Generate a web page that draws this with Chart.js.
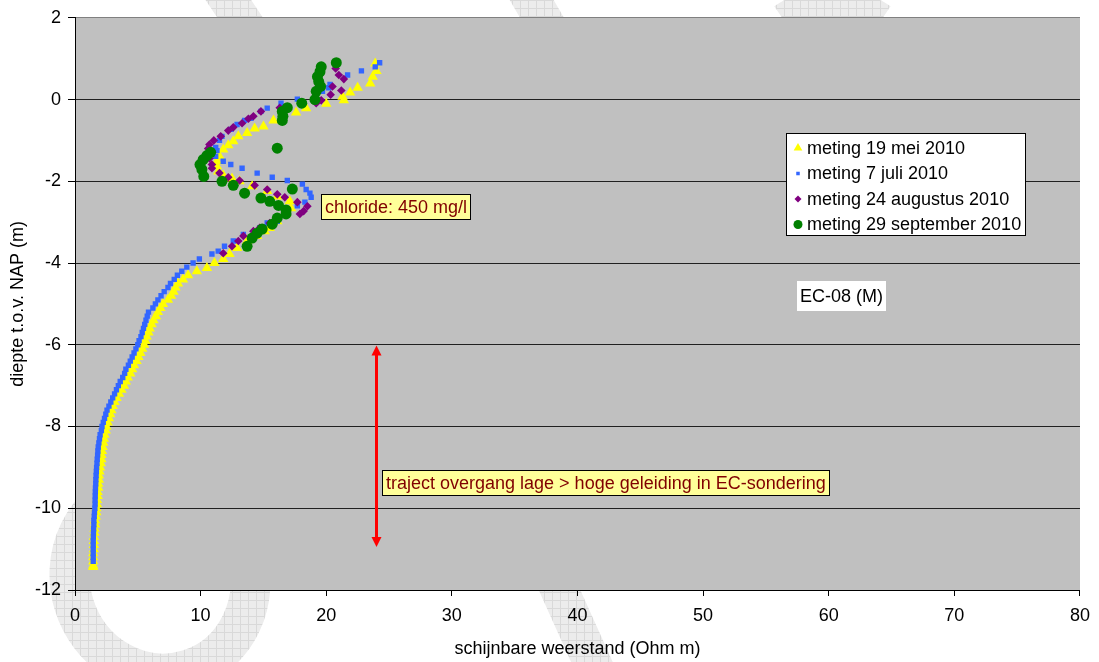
<!DOCTYPE html>
<html>
<head>
<meta charset="utf-8">
<script src="https://cdn.jsdelivr.net/npm/chart.js@4/dist/chart.umd.min.js"></script>
<style>
  html, body { margin: 0; padding: 0; background: #fff; }
  #wrap { width: 1099px; height: 662px; }
</style>
</head>
<body>
<div id="wrap"><canvas id="chart" width="1099" height="662"></canvas></div>
<script>
// Meetreeksen: schijnbare weerstand (Ohm m) tegen diepte t.o.v. NAP (m)
const meiWeerstand = [23.9, 24.0, 23.7, 23.5, 22.5, 21.9, 21.3, 21.4, 20.0, 18.4, 17.6, 15.8, 15.0, 14.3, 13.7, 13.0, 12.6, 12.2, 11.8, 11.5,
  11.3, 11.3, 11.4, 11.8, 12.5, 13.1, 14.1, 15.3, 16.1, 17.1, 17.2, 16.8, 16.1, 15.5, 15.1, 14.5, 13.7, 12.9, 12.3, 11.8,
  11.1, 10.5, 9.7, 9.0, 8.6, 8.2, 8.0, 7.85, 7.65, 7.4, 7.0, 6.8, 6.6, 6.45, 6.25, 6.1, 5.95, 5.85, 5.7, 5.6,
  5.5, 5.35, 5.2, 5.05, 4.9, 4.7, 4.55, 4.4, 4.2, 4.05, 3.9, 3.7, 3.5, 3.3, 3.15, 3.0, 2.9, 2.8, 2.7, 2.6,
  2.5, 2.45, 2.35, 2.3, 2.25, 2.2, 2.15, 2.1, 2.1, 2.05, 2.0, 1.95, 1.9, 1.9, 1.85, 1.85, 1.8, 1.8, 1.75, 1.75,
  1.7, 1.7, 1.65, 1.6, 1.6, 1.55, 1.55, 1.5, 1.5, 1.5, 1.5, 1.45, 1.45, 1.45, 1.45, 1.45];
const meiDiepte = [0.88, 0.7, 0.56, 0.39, 0.29, 0.17, 0.07, -0.02, -0.1, -0.21, -0.32, -0.51, -0.66, -0.71, -0.82, -0.9, -1.02, -1.12, -1.22, -1.39,
  -1.51, -1.63, -1.76, -1.85, -1.93, -2.0, -2.12, -2.24, -2.37, -2.49, -2.66, -2.8, -2.98, -3.14, -3.22, -3.34, -3.46, -3.63, -3.78, -3.9,
  -4.0, -4.12, -4.2, -4.3, -4.4, -4.5, -4.6, -4.7, -4.8, -4.9, -5.0, -5.1, -5.2, -5.3, -5.4, -5.5, -5.6, -5.7, -5.8, -5.9,
  -6.0, -6.1, -6.2, -6.3, -6.4, -6.5, -6.6, -6.7, -6.8, -6.9, -7.0, -7.1, -7.2, -7.3, -7.4, -7.5, -7.6, -7.7, -7.8, -7.9,
  -8.0, -8.1, -8.2, -8.3, -8.4, -8.5, -8.6, -8.7, -8.8, -8.9, -9.0, -9.1, -9.2, -9.3, -9.4, -9.5, -9.6, -9.7, -9.8, -9.9,
  -10.0, -10.1, -10.2, -10.3, -10.4, -10.5, -10.6, -10.7, -10.8, -10.9, -11.0, -11.1, -11.2, -11.3, -11.4, -11.44];

const juliWeerstand = [24.25, 23.9, 22.8, 21.7, 20.3, 20.2, 19.7, 17.7, 16.4, 15.3, 14.8, 14.0, 13.5, 12.9, 12.4, 11.7, 11.5, 11.2, 11.3, 11.2,
  11.8, 12.4, 13.3, 14.5, 15.7, 16.9, 18.1, 18.4, 18.7, 18.8, 18.3, 17.7, 16.8, 16.1, 15.3, 14.7, 13.4, 12.6, 11.9, 11.4,
  10.9, 9.9, 9.4, 8.9, 8.5, 8.15, 7.9, 7.6, 7.4, 7.1, 6.85, 6.6, 6.4, 6.2, 5.85, 5.75, 5.65, 5.55, 5.45, 5.35,
  5.25, 5.1, 5.0, 4.85, 4.7, 4.55, 4.4, 4.25, 4.05, 3.95, 3.8, 3.6, 3.45, 3.3, 3.15, 3.0, 2.85, 2.7, 2.55, 2.45,
  2.35, 2.25, 2.15, 2.1, 2.0, 1.95, 1.9, 1.85, 1.82, 1.8, 1.77, 1.75, 1.72, 1.7, 1.68, 1.66, 1.65, 1.63, 1.62, 1.61,
  1.6, 1.6, 1.58, 1.55, 1.53, 1.5, 1.5, 1.48, 1.47, 1.46, 1.45, 1.45, 1.45, 1.45, 1.45, 1.45];
const juliDiepte = [0.9, 0.8, 0.7, 0.6, 0.37, 0.29, 0.2, 0.01, -0.09, -0.21, -0.29, -0.46, -0.51, -0.61, -0.73, -0.9, -1.0, -1.17, -1.25, -1.39,
  -1.51, -1.59, -1.68, -1.8, -1.9, -1.98, -2.07, -2.2, -2.29, -2.39, -2.51, -2.6, -2.8, -2.98, -3.02, -3.14, -3.3, -3.46, -3.59, -3.71,
  -3.78, -3.9, -4.0, -4.1, -4.2, -4.3, -4.4, -4.5, -4.6, -4.7, -4.8, -4.9, -5.0, -5.1, -5.2, -5.3, -5.4, -5.5, -5.6, -5.7,
  -5.8, -5.9, -6.0, -6.1, -6.2, -6.3, -6.4, -6.5, -6.6, -6.7, -6.8, -6.9, -7.0, -7.1, -7.2, -7.3, -7.4, -7.5, -7.6, -7.7,
  -7.8, -7.9, -8.0, -8.1, -8.2, -8.3, -8.4, -8.5, -8.6, -8.7, -8.8, -8.9, -9.0, -9.1, -9.2, -9.3, -9.4, -9.5, -9.6, -9.7,
  -9.8, -9.9, -10.0, -10.1, -10.2, -10.3, -10.4, -10.5, -10.6, -10.7, -10.8, -10.9, -11.0, -11.1, -11.2, -11.3];

const augWeerstand = [20.75, 21.0, 21.4, 20.5, 21.2, 20.35, 19.6, 19.2, 16.3, 14.8, 14.2, 13.8, 13.3, 12.6, 12.2, 11.6, 11.05, 10.7, 10.6, 10.7,
  10.9, 10.9, 11.5, 12.2, 13.1, 14.3, 15.3, 16.1, 16.7, 17.7, 18.5, 18.2, 17.9, 16.1, 15.5, 14.7, 14.2, 13.4, 13.0, 12.5, 11.8];
const augDiepte = [0.76, 0.6, 0.5, 0.32, 0.22, 0.12, -0.02, -0.09, -0.2, -0.29, -0.41, -0.47, -0.58, -0.68, -0.76, -0.9, -1.0, -1.1, -1.2, -1.44,
  -1.59, -1.68, -1.8, -1.9, -1.98, -2.1, -2.2, -2.32, -2.39, -2.51, -2.61, -2.73, -2.8, -2.93, -3.02, -3.14, -3.22, -3.34, -3.46, -3.59, -3.76];

const sepWeerstand = [20.8, 19.6, 19.5, 19.3, 19.4, 19.55, 19.2, 19.1, 18.05, 16.9, 16.5, 16.55, 16.5, 16.1, 10.8, 10.5, 10.2, 9.95, 10.1, 10.25,
  11.7, 12.6, 13.5, 14.8, 15.5, 16.2, 17.3, 16.8, 16.8, 16.1, 15.7, 14.9, 14.5, 14.1, 13.7];
const sepDiepte = [0.9, 0.8, 0.68, 0.56, 0.44, 0.32, 0.2, 0.0, -0.09, -0.2, -0.29, -0.41, -0.51, -1.19, -1.29, -1.37, -1.47, -1.59, -1.71, -1.88,
  -2.0, -2.1, -2.29, -2.41, -2.49, -2.59, -2.19, -2.7, -2.8, -2.9, -3.05, -3.17, -3.27, -3.39, -3.59];

const reeksNamen = ['meting 19 mei 2010', 'meting 7 juli 2010', 'meting 24 augustus 2010', 'meting 29 september 2010'];

// Annotaties (in data-eenheden)
const chlorideTekst = 'chloride: 450 mg/l';
const chlorideX = 19.56, chlorideY = -2.63;
const putTekst = 'EC-08 (M)';
const putX = 57.5, putY = -4.8;
const trajectTekst = 'traject overgang lage > hoge geleiding in EC-sondering';
const trajectX = 24.4, trajectY = -9.39;
const pijlX = 24.0, pijlBoven = -6.02, pijlOnder = -10.95;

const FONT = '"Liberation Sans", Arial, sans-serif';
const FS = 18;

function punten(xs, ys) {
  return xs.map((x, i) => ({ x: x, y: ys[i] }));
}

function makePattern(ctx) {
  const p = document.createElement('canvas');
  p.width = 8; p.height = 8;
  const c = p.getContext('2d');
  c.fillStyle = '#ececec'; c.fillRect(0, 0, 8, 8);
  c.fillStyle = '#d9d9d9'; c.fillRect(0, 0, 8, 1); c.fillRect(0, 0, 1, 8);
  return ctx.createPattern(p, 'repeat');
}

// watermerk + grijze plotachtergrond
const achtergrond = {
  id: 'achtergrond',
  beforeDraw(chart) {
    const { ctx, chartArea: a } = chart;
    ctx.save();
    ctx.strokeStyle = makePattern(ctx);
    ctx.lineCap = 'butt';
    ctx.lineWidth = 40;
    ctx.beginPath();
    ctx.ellipse(160, 578, 90, 96, -0.3, 0, Math.PI * 2);
    ctx.stroke();
    ctx.lineWidth = 38;
    ctx.beginPath(); ctx.moveTo(215, -20); ctx.lineTo(255, 40); ctx.stroke();
    ctx.beginPath(); ctx.moveTo(520, -20); ctx.lineTo(555, 40); ctx.stroke();
    ctx.beginPath(); ctx.moveTo(785, 22); ctx.quadraticCurveTo(832, -10, 880, 22); ctx.stroke();
    ctx.beginPath(); ctx.moveTo(555, 580); ctx.lineTo(600, 680); ctx.stroke();
    ctx.fillStyle = '#c0c0c0';
    ctx.fillRect(a.left, a.top, a.right - a.left, a.bottom - a.top);
    ctx.restore();
  }
};

function labelBox(ctx, x, yMid, tekst, bg, kleur, rand, pad, h) {
  ctx.font = FS + 'px ' + FONT;
  const w = Math.round(ctx.measureText(tekst).width + pad * 2);
  const left = Math.round(x);
  const top = Math.round(yMid - h / 2);
  ctx.fillStyle = bg;
  ctx.fillRect(left, top, w, h);
  if (rand) {
    ctx.strokeStyle = '#000';
    ctx.lineWidth = 1;
    ctx.strokeRect(left + 0.5, top + 0.5, w - 1, h - 1);
  }
  ctx.fillStyle = kleur;
  ctx.textBaseline = 'middle';
  ctx.textAlign = 'left';
  ctx.fillText(tekst, left + pad, top + h / 2 + 1);
}

const annotaties = {
  id: 'annotaties',
  afterDatasetsDraw(chart) {
    const { ctx, scales: { x: xs, y: ys } } = chart;
    ctx.save();
    // rode dubbele pijl
    const px = Math.round(xs.getPixelForValue(pijlX)) + 0.5;
    const y1 = ys.getPixelForValue(pijlBoven), y2 = ys.getPixelForValue(pijlOnder);
    ctx.strokeStyle = '#ff0000';
    ctx.fillStyle = '#ff0000';
    ctx.lineWidth = 3;
    ctx.beginPath(); ctx.moveTo(px, y1 + 8); ctx.lineTo(px, y2 - 8); ctx.stroke();
    ctx.beginPath(); ctx.moveTo(px, y1); ctx.lineTo(px - 5, y1 + 10); ctx.lineTo(px + 5, y1 + 10); ctx.closePath(); ctx.fill();
    ctx.beginPath(); ctx.moveTo(px, y2); ctx.lineTo(px - 5, y2 - 10); ctx.lineTo(px + 5, y2 - 10); ctx.closePath(); ctx.fill();

    labelBox(ctx, xs.getPixelForValue(chlorideX), ys.getPixelForValue(chlorideY), chlorideTekst, '#ffff99', '#800000', true, 4, 26);
    labelBox(ctx, xs.getPixelForValue(trajectX), ys.getPixelForValue(trajectY), trajectTekst, '#ffff99', '#800000', true, 4, 26);
    labelBox(ctx, xs.getPixelForValue(putX), ys.getPixelForValue(putY), putTekst, '#ffffff', '#000000', false, 3, 30);
    ctx.restore();
  }
};

// legenda in een wit kader rechtsboven in het plotvlak
const legenda = {
  id: 'legenda',
  afterDraw(chart) {
    const ctx = chart.ctx;
    const left = 786, top = 133, w = 240, h = 103, rij = 25.5;
    ctx.save();
    ctx.fillStyle = '#ffffff';
    ctx.fillRect(left, top, w, h);
    ctx.strokeStyle = '#000';
    ctx.lineWidth = 1;
    ctx.strokeRect(left + 0.5, top + 0.5, w - 1, h - 1);
    const radii = [5, 2.5, 3.5, 4.5];
    chart.data.datasets.forEach((ds, i) => {
      const y = top + 15 + i * rij;
      ctx.fillStyle = ds.backgroundColor;
      ctx.strokeStyle = ds.backgroundColor;
      Chart.helpers.drawPoint(ctx, { pointStyle: ds.pointStyle, radius: radii[i], rotation: 0, borderWidth: 0 }, left + 12, y);
      ctx.fillStyle = '#000';
      ctx.font = FS + 'px ' + FONT;
      ctx.textBaseline = 'middle';
      ctx.fillText(ds.label, left + 21, y + 1);
    });
    ctx.restore();
  }
};

const ctx = document.getElementById('chart').getContext('2d');
new Chart(ctx, {
  type: 'scatter',
  data: {
    datasets: [
      { label: reeksNamen[0], data: punten(meiWeerstand, meiDiepte), pointStyle: 'triangle', pointRadius: 6,
        backgroundColor: '#ffff00', borderColor: '#ffff00', borderWidth: 0, order: 4 },
      { label: reeksNamen[1], data: punten(juliWeerstand, juliDiepte), pointStyle: 'rect', pointRadius: 3.8,
        backgroundColor: '#3366ff', borderColor: '#3366ff', borderWidth: 0, order: 3 },
      { label: reeksNamen[2], data: punten(augWeerstand, augDiepte), pointStyle: 'rectRot', pointRadius: 4.3,
        backgroundColor: '#800080', borderColor: '#800080', borderWidth: 0, order: 2 },
      { label: reeksNamen[3], data: punten(sepWeerstand, sepDiepte), pointStyle: 'circle', pointRadius: 5.5,
        backgroundColor: '#008000', borderColor: '#008000', borderWidth: 0, order: 1 }
    ]
  },
  options: {
    responsive: false,
    animation: false,
    devicePixelRatio: 1,
    layout: { padding: { top: 16, right: 18, left: 0, bottom: 0 } },
    plugins: {
      legend: { display: false },
      tooltip: { enabled: false }
    },
    scales: {
      x: {
        type: 'linear',
        min: 0,
        max: 80,
        afterFit: (s) => { s.height = 72; },
        ticks: { stepSize: 10, color: '#000', font: { family: FONT, size: FS }, padding: 9, maxRotation: 0 },
        grid: { drawOnChartArea: false, tickLength: 6, tickColor: '#000' },
        border: { color: '#000', width: 1 },
        title: { display: true, text: 'schijnbare weerstand (Ohm m)', color: '#000',
          font: { family: FONT, size: FS }, padding: { top: 0, bottom: 2 } }
      },
      y: {
        type: 'linear',
        min: -12,
        max: 2,
        afterFit: (s) => { s.width = 75; },
        ticks: { stepSize: 2, color: '#000', font: { family: FONT, size: FS }, padding: 7 },
        grid: {
          color: (c) => (c.tick && c.tick.value === 2 ? '#808080' : '#202020'),
          lineWidth: 1,
          tickLength: 7,
          tickColor: '#000'
        },
        border: { color: '#000', width: 1 },
        title: { display: true, text: 'diepte t.o.v. NAP (m)', color: '#000',
          font: { family: FONT, size: FS }, padding: { top: 7, bottom: 0 } }
      }
    }
  },
  plugins: [achtergrond, annotaties, legenda]
});
</script>
</body>
</html>
